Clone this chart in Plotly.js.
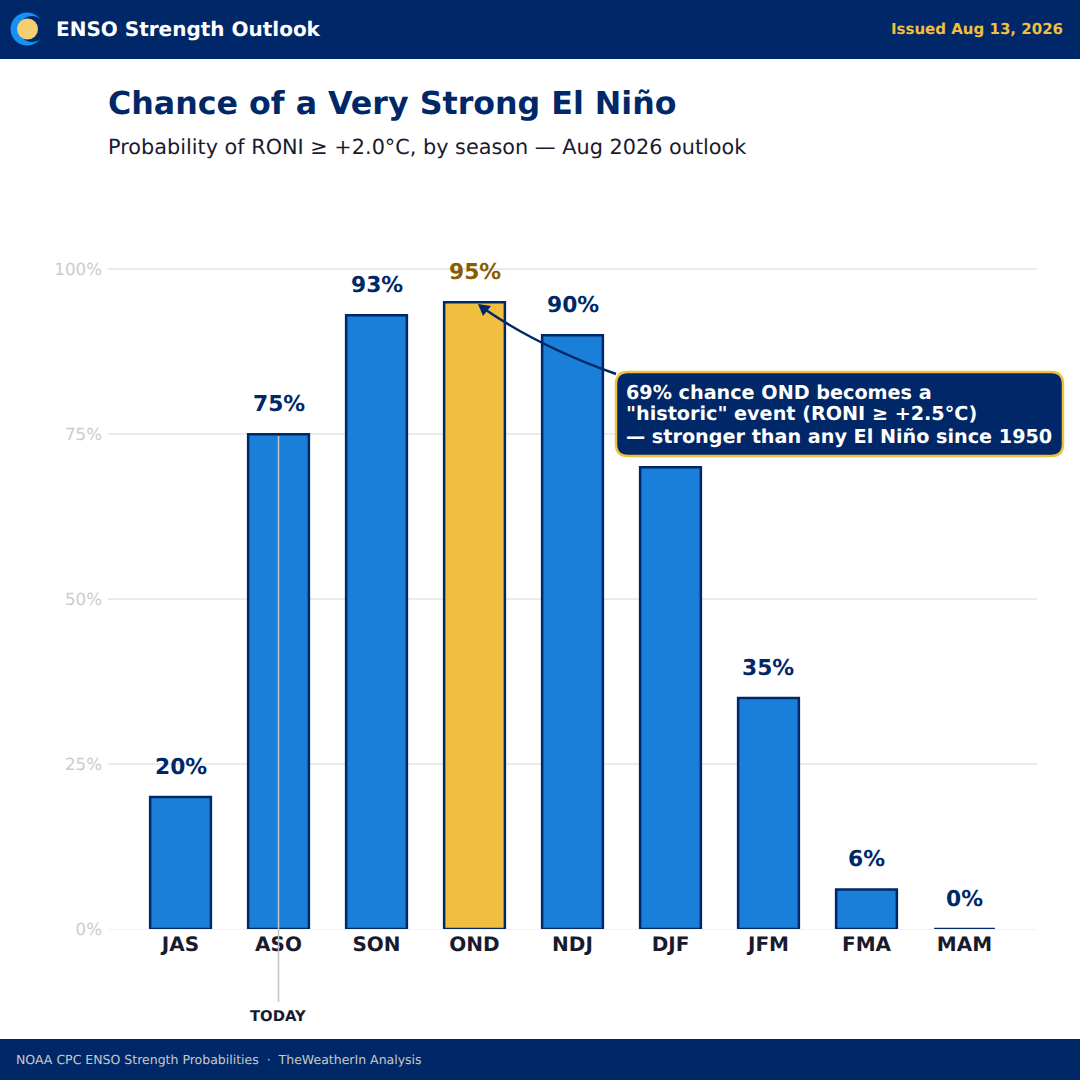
<!DOCTYPE html>
<html>
<head>
<meta charset="utf-8">
<script src="https://cdn.plot.ly/plotly-3.0.1.min.js"></script>
<style>
  html, body { margin: 0; padding: 0; background: #fff; }
  #chart { width: 1080px; height: 1080px; }
  #chart text { text-rendering: geometricPrecision; }
</style>
</head>
<body>
<div id="chart"></div>
<script>
const seasons = ["JAS", "ASO", "SON", "OND", "NDJ", "DJF", "JFM", "FMA", "MAM"];
const chances = [20, 75, 93, 95, 90, 70, 35, 6, 0];
const yTicks = [0, 25, 50, 75, 100];
const yTickLabels = ["0%", "25%", "50%", "75%", "100%"];
const highlight = "OND";
const todaySeason = "ASO";
const coveredLabel = "DJF"; // its value label sits behind the callout box in the reference
const calloutLines = [
  "69% chance OND becomes a",
  "\"historic\" event (RONI ≥ +2.5°C)",
  "— stronger than any El Niño since 1950",
];

const NAVY = "#002868";
const BLUE = "#1a7fd8";
const GOLD = "#f0bf40";
const INK = "#1a1a2e";
const FONT = "DejaVu Sans";
const W = 1080, H = 1080;
const M = { l: 108, r: 43, t: 190, b: 151 };

// page pixels -> paper coords, the header, footer and callout are placed by pixel
const px = (x) => (x - M.l) / (W - M.l - M.r);
const py = (y) => (H - M.b - y) / (H - M.t - M.b);
const pt = (x, y) => px(x) + "," + py(y);

function pageRect(x0, y0, x1, y1, fill) {
  return { type: "rect", xref: "paper", yref: "paper", x0: px(x0), x1: px(x1), y0: py(y0), y1: py(y1),
    fillcolor: fill, line: { width: 0 }, layer: "above" };
}
function pageCircle(cx, cy, r, fill) {
  return { type: "circle", xref: "paper", yref: "paper", x0: px(cx - r), x1: px(cx + r), y0: py(cy - r), y1: py(cy + r),
    fillcolor: fill, line: { width: 0 }, layer: "above" };
}
function pageText(x, y, text, size, color, bold, anchor) {
  return { xref: "paper", yref: "paper", x: px(x), y: py(y), text: bold ? "<b>" + text + "</b>" : text,
    showarrow: false, xanchor: anchor || "left", yanchor: "middle", borderpad: 0,
    font: { family: FONT, size: size, color: color } };
}
function roundedBox(x0, y0, x1, y1, r) {
  return "M" + pt(x0 + r, y0) + " L" + pt(x1 - r, y0) + " Q" + pt(x1, y0) + " " + pt(x1, y0 + r) +
    " L" + pt(x1, y1 - r) + " Q" + pt(x1, y1) + " " + pt(x1 - r, y1) +
    " L" + pt(x0 + r, y1) + " Q" + pt(x0, y1) + " " + pt(x0, y1 - r) +
    " L" + pt(x0, y0 + r) + " Q" + pt(x0, y0) + " " + pt(x0 + r, y0) + " Z";
}

const shapes = [
  pageRect(0, 0, 1080, 59, NAVY),
  pageRect(0, 1039, 1080, 1080, NAVY),
  pageCircle(27, 29, 16.5, "#1590f5"),
  pageCircle(32, 29, 13, NAVY),
  pageCircle(27.5, 29, 10.5, "#f5cd72"),
  // today marker
  { type: "line", xref: "x", yref: "paper", x0: todaySeason, x1: todaySeason, y0: py(1002), y1: py(436),
    line: { color: "#c4c4c4", width: 1.5 }, layer: "above" },
  // callout arrow
  { type: "path", xref: "paper", yref: "paper", layer: "above", line: { color: NAVY, width: 2.5 },
    path: "M" + pt(616, 374) + " Q" + pt(540, 347) + " " + pt(486, 310) },
  { type: "path", xref: "paper", yref: "paper", layer: "above", fillcolor: NAVY, line: { width: 0 },
    path: "M" + pt(478, 304) + " L" + pt(491, 306) + " L" + pt(483, 316) + " Z" },
  // callout box
  { type: "path", xref: "paper", yref: "paper", layer: "above", fillcolor: NAVY,
    line: { color: GOLD, width: 2.5 }, path: roundedBox(616, 372, 1063, 456, 12) },
];

const annotations = [
  pageText(55, 29, "ENSO Strength Outlook", 20, "#ffffff", true),
  pageText(1064, 29, "Issued Aug 13, 2026", 15, GOLD, true, "right"),
  pageText(107, 102.5, "Chance of a Very Strong El Niño", 31.7, NAVY, true),
  pageText(107, 146.5, "Probability of RONI ≥ +2.0°C, by season — Aug 2026 outlook", 20.8, INK, false),
  pageText(15, 1059, "NOAA CPC ENSO Strength Probabilities  ·  TheWeatherIn Analysis", 12.5, "#c8c8c8", false),
  pageText(278, 1015, "TODAY", 14.8, INK, true, "center"),
  pageText(625, 392, calloutLines[0], 19.2, "#ffffff", true),
  pageText(625, 413.5, calloutLines[1], 19.2, "#ffffff", true),
  pageText(625, 436, calloutLines[2], 19.2, "#ffffff", true),
];

seasons.forEach((s, i) => {
  if (s === coveredLabel) return;
  annotations.push({
    x: s, y: chances[i], xref: "x", yref: "y", yshift: 31, showarrow: false,
    xanchor: "center", yanchor: "middle",
    text: "<b>" + chances[i] + "%</b>",
    font: { family: FONT, size: 21.8, color: s === highlight ? "#8a5c00" : NAVY },
  });
});

Plotly.newPlot(
  "chart",
  [
    {
      type: "bar",
      x: seasons,
      y: chances,
      width: 0.62,
      marker: {
        color: seasons.map((s) => (s === highlight ? GOLD : BLUE)),
        line: { color: NAVY, width: 2.5 },
      },
      hoverinfo: "x+y",
    },
  ],
  {
    width: W,
    height: H,
    margin: M,
    paper_bgcolor: "#ffffff",
    plot_bgcolor: "#ffffff",
    showlegend: false,
    font: { family: FONT },
    xaxis: {
      type: "category",
      categoryorder: "array",
      categoryarray: seasons,
      range: [-0.74, 8.74],
      showgrid: false,
      zeroline: false,
      showline: false,
      ticks: "",
      ticklen: 0,
      ticklabelstandoff: 1,
      tickfont: { family: FONT, size: 20, color: INK, weight: "bold" },
    },
    yaxis: {
      range: [0, 112],
      tickmode: "array",
      tickvals: yTicks,
      ticktext: yTickLabels,
      ticks: "",
      ticklabelstandoff: 5,
      tickfont: { family: FONT, size: 16.7, color: "#cccccc" },
      gridcolor: "#ebebeb",
      gridwidth: 1.5,
      zeroline: true,
      zerolinecolor: "#f3f3f3",
      zerolinewidth: 1,
      showline: false,
    },
    shapes: shapes,
    annotations: annotations,
  },
  { displayModeBar: false }
);
</script>
</body>
</html>
